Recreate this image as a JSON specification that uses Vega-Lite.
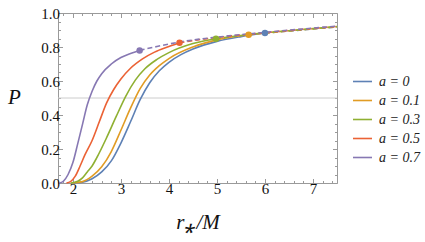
{
  "$schema": "https://vega.github.io/schema/vega-lite/v6.json",
  "width": 279,
  "height": 170,
  "autosize": {"type": "none"},
  "padding": {"left": 58, "top": 13, "right": 88, "bottom": 59},
  "datasets": {
    "curves": [
      {"a": "a = 0", "s": "solid", "r": 2.0, "P": 0},
      {"a": "a = 0", "s": "solid", "r": 2.2, "P": 0.005},
      {"a": "a = 0", "s": "solid", "r": 2.4, "P": 0.025},
      {"a": "a = 0", "s": "solid", "r": 2.6, "P": 0.065},
      {"a": "a = 0", "s": "solid", "r": 2.8, "P": 0.13},
      {"a": "a = 0", "s": "solid", "r": 3.0, "P": 0.235},
      {"a": "a = 0", "s": "solid", "r": 3.2, "P": 0.36},
      {"a": "a = 0", "s": "solid", "r": 3.4, "P": 0.49},
      {"a": "a = 0", "s": "solid", "r": 3.6, "P": 0.59},
      {"a": "a = 0", "s": "solid", "r": 3.8, "P": 0.66},
      {"a": "a = 0", "s": "solid", "r": 4.0, "P": 0.71},
      {"a": "a = 0", "s": "solid", "r": 4.25, "P": 0.755},
      {"a": "a = 0", "s": "solid", "r": 4.5, "P": 0.788},
      {"a": "a = 0", "s": "solid", "r": 5.0, "P": 0.833},
      {"a": "a = 0", "s": "solid", "r": 5.5, "P": 0.861},
      {"a": "a = 0", "s": "solid", "r": 6.0, "P": 0.882},
      {"a": "a = 0", "s": "dashed", "r": 6.0, "P": 0.882},
      {"a": "a = 0", "s": "dashed", "r": 6.5, "P": 0.894},
      {"a": "a = 0", "s": "dashed", "r": 7.0, "P": 0.906},
      {"a": "a = 0", "s": "dashed", "r": 7.5, "P": 0.918},

      {"a": "a = 0.1", "s": "solid", "r": 1.995, "P": 0},
      {"a": "a = 0.1", "s": "solid", "r": 2.2, "P": 0.008},
      {"a": "a = 0.1", "s": "solid", "r": 2.4, "P": 0.04},
      {"a": "a = 0.1", "s": "solid", "r": 2.6, "P": 0.095},
      {"a": "a = 0.1", "s": "solid", "r": 2.8, "P": 0.185},
      {"a": "a = 0.1", "s": "solid", "r": 3.0, "P": 0.31},
      {"a": "a = 0.1", "s": "solid", "r": 3.2, "P": 0.44},
      {"a": "a = 0.1", "s": "solid", "r": 3.4, "P": 0.555},
      {"a": "a = 0.1", "s": "solid", "r": 3.6, "P": 0.635},
      {"a": "a = 0.1", "s": "solid", "r": 3.8, "P": 0.69},
      {"a": "a = 0.1", "s": "solid", "r": 4.0, "P": 0.732},
      {"a": "a = 0.1", "s": "solid", "r": 4.5, "P": 0.8},
      {"a": "a = 0.1", "s": "solid", "r": 5.0, "P": 0.842},
      {"a": "a = 0.1", "s": "solid", "r": 5.66, "P": 0.872},
      {"a": "a = 0.1", "s": "dashed", "r": 5.66, "P": 0.872},
      {"a": "a = 0.1", "s": "dashed", "r": 6.0, "P": 0.882},
      {"a": "a = 0.1", "s": "dashed", "r": 6.5, "P": 0.895},
      {"a": "a = 0.1", "s": "dashed", "r": 7.0, "P": 0.907},
      {"a": "a = 0.1", "s": "dashed", "r": 7.5, "P": 0.919},

      {"a": "a = 0.3", "s": "solid", "r": 1.954, "P": 0},
      {"a": "a = 0.3", "s": "solid", "r": 2.1, "P": 0.01},
      {"a": "a = 0.3", "s": "solid", "r": 2.2, "P": 0.03},
      {"a": "a = 0.3", "s": "solid", "r": 2.3, "P": 0.065},
      {"a": "a = 0.3", "s": "solid", "r": 2.4, "P": 0.1},
      {"a": "a = 0.3", "s": "solid", "r": 2.5, "P": 0.15},
      {"a": "a = 0.3", "s": "solid", "r": 2.7, "P": 0.265},
      {"a": "a = 0.3", "s": "solid", "r": 2.9, "P": 0.39},
      {"a": "a = 0.3", "s": "solid", "r": 3.1, "P": 0.51},
      {"a": "a = 0.3", "s": "solid", "r": 3.3, "P": 0.605},
      {"a": "a = 0.3", "s": "solid", "r": 3.5, "P": 0.672},
      {"a": "a = 0.3", "s": "solid", "r": 3.75, "P": 0.727},
      {"a": "a = 0.3", "s": "solid", "r": 4.0, "P": 0.767},
      {"a": "a = 0.3", "s": "solid", "r": 4.5, "P": 0.82},
      {"a": "a = 0.3", "s": "solid", "r": 4.98, "P": 0.849},
      {"a": "a = 0.3", "s": "dashed", "r": 4.98, "P": 0.849},
      {"a": "a = 0.3", "s": "dashed", "r": 5.5, "P": 0.868},
      {"a": "a = 0.3", "s": "dashed", "r": 6.0, "P": 0.883},
      {"a": "a = 0.3", "s": "dashed", "r": 6.5, "P": 0.896},
      {"a": "a = 0.3", "s": "dashed", "r": 7.0, "P": 0.908},
      {"a": "a = 0.3", "s": "dashed", "r": 7.5, "P": 0.92},

      {"a": "a = 0.5", "s": "solid", "r": 1.866, "P": 0},
      {"a": "a = 0.5", "s": "solid", "r": 1.95, "P": 0.008},
      {"a": "a = 0.5", "s": "solid", "r": 2.05, "P": 0.04},
      {"a": "a = 0.5", "s": "solid", "r": 2.15, "P": 0.1},
      {"a": "a = 0.5", "s": "solid", "r": 2.25, "P": 0.165},
      {"a": "a = 0.5", "s": "solid", "r": 2.4, "P": 0.25},
      {"a": "a = 0.5", "s": "solid", "r": 2.55, "P": 0.36},
      {"a": "a = 0.5", "s": "solid", "r": 2.7, "P": 0.47},
      {"a": "a = 0.5", "s": "solid", "r": 2.85, "P": 0.55},
      {"a": "a = 0.5", "s": "solid", "r": 3.0, "P": 0.612},
      {"a": "a = 0.5", "s": "solid", "r": 3.2, "P": 0.675},
      {"a": "a = 0.5", "s": "solid", "r": 3.45, "P": 0.73},
      {"a": "a = 0.5", "s": "solid", "r": 3.7, "P": 0.77},
      {"a": "a = 0.5", "s": "solid", "r": 4.0, "P": 0.803},
      {"a": "a = 0.5", "s": "solid", "r": 4.22, "P": 0.825},
      {"a": "a = 0.5", "s": "dashed", "r": 4.22, "P": 0.825},
      {"a": "a = 0.5", "s": "dashed", "r": 4.6, "P": 0.842},
      {"a": "a = 0.5", "s": "dashed", "r": 5.0, "P": 0.856},
      {"a": "a = 0.5", "s": "dashed", "r": 5.5, "P": 0.871},
      {"a": "a = 0.5", "s": "dashed", "r": 6.0, "P": 0.884},
      {"a": "a = 0.5", "s": "dashed", "r": 6.5, "P": 0.897},
      {"a": "a = 0.5", "s": "dashed", "r": 7.0, "P": 0.909},
      {"a": "a = 0.5", "s": "dashed", "r": 7.5, "P": 0.921},

      {"a": "a = 0.7", "s": "solid", "r": 1.714, "P": 0},
      {"a": "a = 0.7", "s": "solid", "r": 1.8, "P": 0.01},
      {"a": "a = 0.7", "s": "solid", "r": 1.9, "P": 0.05},
      {"a": "a = 0.7", "s": "solid", "r": 2.0, "P": 0.12},
      {"a": "a = 0.7", "s": "solid", "r": 2.1, "P": 0.23},
      {"a": "a = 0.7", "s": "solid", "r": 2.2, "P": 0.345},
      {"a": "a = 0.7", "s": "solid", "r": 2.3, "P": 0.46},
      {"a": "a = 0.7", "s": "solid", "r": 2.4, "P": 0.54},
      {"a": "a = 0.7", "s": "solid", "r": 2.5, "P": 0.6},
      {"a": "a = 0.7", "s": "solid", "r": 2.6, "P": 0.643},
      {"a": "a = 0.7", "s": "solid", "r": 2.8, "P": 0.7},
      {"a": "a = 0.7", "s": "solid", "r": 3.0, "P": 0.738},
      {"a": "a = 0.7", "s": "solid", "r": 3.2, "P": 0.762},
      {"a": "a = 0.7", "s": "solid", "r": 3.39, "P": 0.78},
      {"a": "a = 0.7", "s": "dashed", "r": 3.39, "P": 0.78},
      {"a": "a = 0.7", "s": "dashed", "r": 3.75, "P": 0.803},
      {"a": "a = 0.7", "s": "dashed", "r": 4.22, "P": 0.829},
      {"a": "a = 0.7", "s": "dashed", "r": 4.6, "P": 0.845},
      {"a": "a = 0.7", "s": "dashed", "r": 5.0, "P": 0.858},
      {"a": "a = 0.7", "s": "dashed", "r": 5.5, "P": 0.873},
      {"a": "a = 0.7", "s": "dashed", "r": 6.0, "P": 0.886},
      {"a": "a = 0.7", "s": "dashed", "r": 6.5, "P": 0.899},
      {"a": "a = 0.7", "s": "dashed", "r": 7.0, "P": 0.911},
      {"a": "a = 0.7", "s": "dashed", "r": 7.5, "P": 0.923}
    ],
    "isco": [
      {"a": "a = 0", "r": 6.0, "P": 0.882},
      {"a": "a = 0.1", "r": 5.66, "P": 0.872},
      {"a": "a = 0.3", "r": 4.98, "P": 0.849},
      {"a": "a = 0.5", "r": 4.22, "P": 0.825},
      {"a": "a = 0.7", "r": 3.39, "P": 0.78}
    ]
  },
  "config": {
    "view": {"stroke": "#9a9a9a", "strokeWidth": 1},
    "font": "Liberation Serif",
    "axis": {
      "domain": false,
      "grid": false,
      "tickColor": "#9a9a9a",
      "tickWidth": 1,
      "labelFont": "Liberation Serif",
      "labelFontSize": 15,
      "labelColor": "#111111",
      "titleFont": "Liberation Serif",
      "titleFontStyle": "italic",
      "titleFontWeight": "normal",
      "titleFontSize": 21,
      "titleColor": "#111111"
    }
  },
  "resolve": {"axis": {"x": "independent", "y": "independent"}},
  "layer": [
    {
      "data": {"values": [{}]},
      "mark": {"type": "rule", "color": "#cccccc", "strokeWidth": 1},
      "encoding": {
        "y": {"datum": 0.5, "type": "quantitative", "scale": {"domain": [0, 1], "nice": false},
              "axis": {"orient": "right", "values": [0.05,0.1,0.15,0.25,0.3,0.35,0.45,0.5,0.55,0.65,0.7,0.75,0.85,0.9,0.95], "tickSize": -2.5, "labels": false, "title": null}},
        "x": {"datum": 1.69, "type": "quantitative", "scale": {"domain": [1.69, 7.5], "nice": false, "zero": false},
              "axis": {"orient": "top", "values": [1.8,2.2,2.4,2.6,2.8,3.2,3.4,3.6,3.8,4.2,4.4,4.6,4.8,5.2,5.4,5.6,5.8,6.2,6.4,6.6,6.8,7.2,7.4], "tickSize": -2.5, "labels": false, "title": null}},
        "x2": {"datum": 7.5}
      }
    },
    {
      "data": {"name": "curves"},
      "transform": [{"filter": "datum.s === 'solid'"}],
      "mark": {"type": "line", "strokeWidth": 1.6, "interpolate": "monotone"},
      "encoding": {
        "x": {"field": "r", "type": "quantitative", "scale": {"domain": [1.69, 7.5], "nice": false, "zero": false},
              "axis": {"orient": "bottom", "values": [2,3,4,5,6,7], "format": "d", "tickSize": -4.5, "labelPadding": 3, "title": "r⁎/M", "titleBaseline": "alphabetic", "titleY": 45}},
        "y": {"field": "P", "type": "quantitative", "scale": {"domain": [0, 1], "nice": false},
              "axis": {"orient": "left", "values": [0,0.2,0.4,0.6,0.8,1.0], "format": ".1f", "tickSize": -4.5, "labelPadding": 3, "title": "P", "titleAngle": 0, "titleAlign": "center", "titleBaseline": "middle", "titleX": -44, "titleY": 84}},
        "color": {"field": "a", "type": "nominal",
                  "scale": {"domain": ["a = 0","a = 0.1","a = 0.3","a = 0.5","a = 0.7"], "range": ["#5E81B5","#E19C24","#8FB032","#EB6235","#8778B3"]},
                  "legend": {"orient": "none", "legendX": 294, "legendY": 58, "title": null, "symbolType": "stroke", "symbolSize": 361, "symbolStrokeWidth": 1.6, "labelFont": "Liberation Serif", "labelFontStyle": "italic", "labelFontSize": 14, "labelColor": "#222222", "labelOffset": 6, "rowPadding": 1, "padding": 0}}
      }
    },
    {
      "data": {"name": "curves"},
      "transform": [{"filter": "datum.s === 'dashed'"}],
      "mark": {"type": "line", "strokeWidth": 1.6, "strokeDash": [5, 3], "interpolate": "monotone"},
      "encoding": {
        "x": {"field": "r", "type": "quantitative", "scale": {"domain": [1.69, 7.5], "nice": false, "zero": false},
              "axis": {"orient": "bottom", "values": [1.8,2.2,2.4,2.6,2.8,3.2,3.4,3.6,3.8,4.2,4.4,4.6,4.8,5.2,5.4,5.6,5.8,6.2,6.4,6.6,6.8,7.2,7.4], "tickSize": -2.5, "labels": false, "title": null}},
        "y": {"field": "P", "type": "quantitative", "scale": {"domain": [0, 1], "nice": false},
              "axis": {"orient": "left", "values": [0.05,0.1,0.15,0.25,0.3,0.35,0.45,0.5,0.55,0.65,0.7,0.75,0.85,0.9,0.95], "tickSize": -2.5, "labels": false, "title": null}},
        "color": {"field": "a", "type": "nominal", "legend": null}
      }
    },
    {
      "data": {"name": "isco"},
      "mark": {"type": "circle", "size": 42, "opacity": 1},
      "encoding": {
        "x": {"field": "r", "type": "quantitative", "scale": {"domain": [1.69, 7.5], "nice": false, "zero": false},
              "axis": {"orient": "top", "values": [2,3,4,5,6,7], "tickSize": -4.5, "labels": false, "title": null}},
        "y": {"field": "P", "type": "quantitative", "scale": {"domain": [0, 1], "nice": false},
              "axis": {"orient": "right", "values": [0,0.2,0.4,0.6,0.8,1.0], "tickSize": -4.5, "labels": false, "title": null}},
        "color": {"field": "a", "type": "nominal", "legend": null}
      }
    }
  ]
}
